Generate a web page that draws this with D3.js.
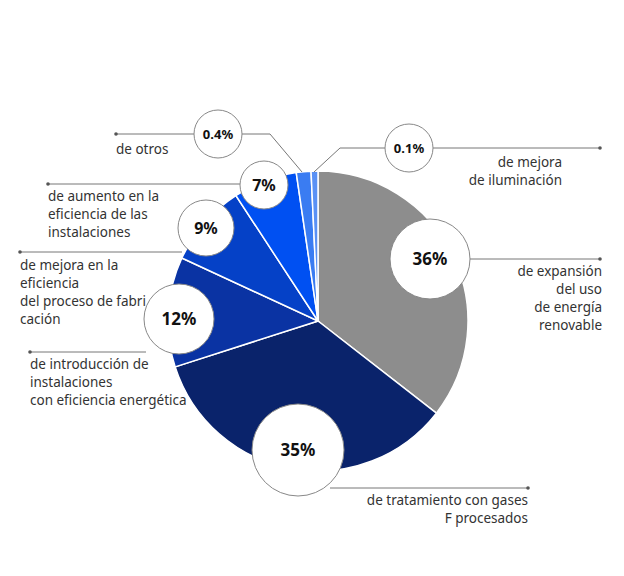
<!DOCTYPE html><html><head><meta charset="utf-8"><script src="https://cdn.jsdelivr.net/npm/d3@7"></script>
<style>body{margin:0;background:#fff}text{font-family:"Noto Sans",sans-serif}</style></head><body><svg width="624" height="576"></svg>
<script>
const categories=["renovable","gases F","fabricación eficiente","proceso","instalaciones","otros","iluminación"];
const values=[36,35,12,9,7,0.4,0.1];
const pctLabels=["36%","35%","12%","9%","7%","0.4%","0.1%"];
const colors=["#8d8d8d","#0a236b","#0a33a3","#0541c7","#0050f2","#3a7cf2","#5a91f5"];
const labelLines=[["de expansión","del uso","de energía","renovable"],["de tratamiento con gases","F procesados"],["de introducción de","instalaciones","con eficiencia energética"],["de mejora en la","eficiencia","del proceso de fabri","cación"],["de aumento en la","eficiencia de las","instalaciones"],["de otros"],["de mejora","de iluminación"]];
const svg=d3.select("svg");
const cx=318,cy=321,R=150;
const pie=d3.pie().sort(null).value(d=>Math.max(d*4>=1?d*4:0.75, d>=1?d:0)).value((d)=>d>=1?d:Math.max(d*4,0.75));
const arcs=pie(values);
const arc=d3.arc().innerRadius(0).outerRadius(R);
const g=svg.append("g").attr("transform",`translate(${cx},${cy})`);
g.selectAll("path").data(arcs).enter().append("path").attr("d",arc).attr("fill",(d,i)=>colors[i]).attr("stroke","#fff").attr("stroke-width",1.5);
// layout for callouts
const L=[
 {c:[430,259],r:40,line:[[470,259],[600,259]],dot:[600,259],tx:602,anchor:"end",ty:276},
 {c:[298,450],r:46,line:[[330,488],[528,488]],dot:[528,488],tx:528,anchor:"end",ty:505},
 {c:[179,319],r:35,line:[[30,352],[146,352]],dot:[30,352],tx:30,anchor:"start",ty:369},
 {c:[206,228],r:28,line:[[20,252],[182,252]],dot:[20,252],tx:20,anchor:"start",ty:270},
 {c:[264,185],r:24,line:[[48,184],[240,184]],dot:[48,184],tx:48,anchor:"start",ty:201},
 {c:[218,134],r:24,line:[[116,134],[194,134]],dot:[116,134],tx:116,anchor:"start",ty:154,extra:[[242,134],[270,134],[302,172]]},
 {c:[409,148],r:24,line:[[433,148],[600,148]],dot:[600,148],tx:562,anchor:"end",ty:167,extra:[[385,148],[340,148],[314,172]]}
];
const line=d3.line();
L.forEach((o,i)=>{
 svg.append("path").attr("d",line(o.line)).attr("stroke","#777").attr("fill","none");
 if(o.extra) svg.append("path").attr("d",line(o.extra)).attr("stroke","#777").attr("fill","none");
 svg.append("circle").attr("cx",o.dot[0]).attr("cy",o.dot[1]).attr("r",1.8).attr("fill","#555");
});
L.forEach((o,i)=>{
 svg.append("circle").attr("cx",o.c[0]).attr("cy",o.c[1]).attr("r",o.r).attr("fill","#fff").attr("stroke","#888").attr("stroke-width",1);
 svg.append("text").attr("x",o.c[0]).attr("y",o.c[1]).attr("dy","0.35em").attr("text-anchor","middle")
  .attr("font-weight","bold").attr("font-size",o.r>=30?17:(pctLabels[i].length>3?13:16)).attr("fill","#111").text(pctLabels[i]);
 labelLines[i].forEach((t,k)=>svg.append("text").attr("x",o.tx).attr("y",o.ty+k*18).attr("text-anchor",o.anchor).attr("font-size",13.5).attr("fill","#333").text(t));
});
</script></body></html>
